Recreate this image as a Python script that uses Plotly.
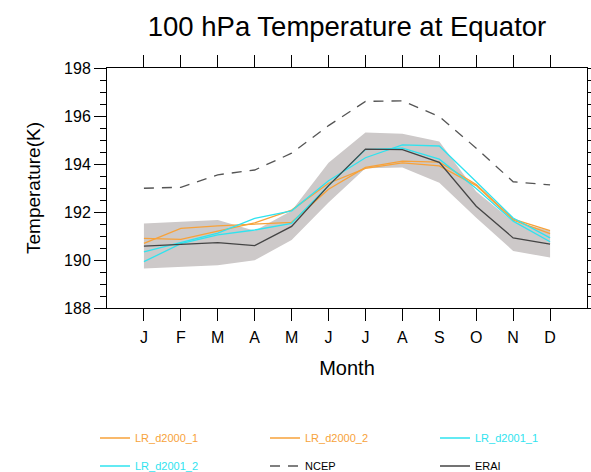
import plotly.graph_objects as go

months = list(range(1, 13))
month_labels = ["J", "F", "M", "A", "M", "J", "J", "A", "S", "O", "N", "D"]

lr_d2000_1 = [190.90, 190.86, 191.20, 191.55, 192.08, 193.20, 193.82, 194.05, 193.92, 193.10, 191.66, 191.10]
lr_d2000_2 = [190.69, 191.32, 191.42, 191.48, 191.57, 192.95, 193.86, 194.12, 194.08, 193.15, 191.70, 191.22]
lr_d2001_1 = [190.34, 190.72, 191.12, 191.73, 192.05, 193.30, 194.26, 194.80, 194.75, 193.26, 191.75, 190.92]
lr_d2001_2 = [189.93, 190.68, 191.05, 191.25, 191.53, 193.10, 194.60, 194.66, 194.20, 192.98, 191.62, 190.76]
ncep = [192.99, 193.03, 193.55, 193.75, 194.45, 195.60, 196.61, 196.63, 195.98, 194.66, 193.26, 193.13]
erai = [190.58, 190.66, 190.72, 190.60, 191.40, 193.10, 194.62, 194.60, 194.07, 192.24, 190.92, 190.66]
erai_upper = [191.52, 191.58, 191.67, 191.22, 192.05, 194.05, 195.31, 195.26, 194.94, 192.85, 191.60, 191.22]
erai_lower = [189.65, 189.72, 189.78, 189.99, 190.83, 192.40, 193.82, 193.85, 193.22, 191.76, 190.38, 190.10]

ORANGE = "#F7A23A"
CYAN = "#2FE3EF"
FONT = "Liberation Sans, Arial, Helvetica, sans-serif"

fig = go.Figure()
fig.add_trace(go.Scatter(x=months, y=erai_lower, mode="lines", line=dict(width=0),
                         showlegend=False, hoverinfo="skip"))
fig.add_trace(go.Scatter(x=months, y=erai_upper, mode="lines", line=dict(width=0),
                         fill="tonexty", fillcolor="#CDC9C9", showlegend=False, hoverinfo="skip"))

def lbl(text, color):
    return f"<span style='color:{color}'>{text}</span>"

series = [
    ("NCEP", ncep, "#000000", dict(color="#555555", width=1.3, dash="10px,8px"), "legend5"),
    ("LR_d2000_1", lr_d2000_1, ORANGE, dict(color=ORANGE, width=1.3), "legend"),
    ("LR_d2000_2", lr_d2000_2, ORANGE, dict(color=ORANGE, width=1.3), "legend2"),
    ("LR_d2001_1", lr_d2001_1, CYAN, dict(color=CYAN, width=1.3), "legend3"),
    ("LR_d2001_2", lr_d2001_2, CYAN, dict(color=CYAN, width=1.3), "legend4"),
    ("ERAI", erai, "#000000", dict(color="#444444", width=1.3), "legend6"),
]
for name, vals, tcolor, line, leg in series:
    fig.add_trace(go.Scatter(x=months, y=vals, mode="lines", name=lbl(name, tcolor),
                             line=line, legend=leg))

def legend_at(xpx, ypx):
    return dict(xref="container", yref="container", x=(xpx - 5) / 591, y=1 - ypx / 472,
                xanchor="left", yanchor="middle",
                font=dict(family=FONT, size=11, color="#000000"), bgcolor="rgba(0,0,0,0)",
                itemclick=False)

fig.update_layout(
    width=591, height=472,
    margin=dict(l=107, r=4, t=68, b=164, autoexpand=False),
    paper_bgcolor="white", plot_bgcolor="white",
    font=dict(family=FONT, color="#000000"),
    title=dict(text="100 hPa Temperature at Equator", x=0.5, xref="paper", xanchor="center",
               y=1 - 26 / 472, yref="container", yanchor="middle",
               font=dict(family=FONT, size=27.5, color="#000000")),
    legend=legend_at(100, 438),
    legend2=legend_at(270, 438),
    legend3=legend_at(440, 438),
    legend4=legend_at(100, 466),
    legend5=legend_at(270, 466),
    legend6=legend_at(440, 466),
    xaxis=dict(range=[0, 13], tickvals=months, ticktext=month_labels, ticks="outside",
               ticklen=12, tickwidth=1, tickcolor="#000000", showline=True, linecolor="#000000",
               linewidth=1, mirror="ticks", showgrid=False, zeroline=False,
               tickfont=dict(family=FONT, size=16), ticklabelstandoff=3,
               title=dict(text="Month", font=dict(family=FONT, size=20), standoff=15)),
    yaxis=dict(range=[188, 198], tickvals=[188, 190, 192, 194, 196, 198], ticks="outside",
               ticklen=12, tickwidth=1, tickcolor="#000000", showline=True, linecolor="#000000",
               linewidth=1, mirror="ticks", showgrid=False, zeroline=False,
               minor=dict(dtick=0.5, tick0=188, ticks="outside", ticklen=6, tickcolor="#000000", showgrid=False),
               tickfont=dict(family=FONT, size=16)),
    annotations=[dict(text="Temperature(K)", xref="paper", yref="paper", x=-(107 - 33) / 480, y=0.5,
                      xanchor="center", yanchor="middle", textangle=-90, showarrow=False,
                      font=dict(family=FONT, size=19, color="#000000"))],
)

fig.write_html("out.html")
